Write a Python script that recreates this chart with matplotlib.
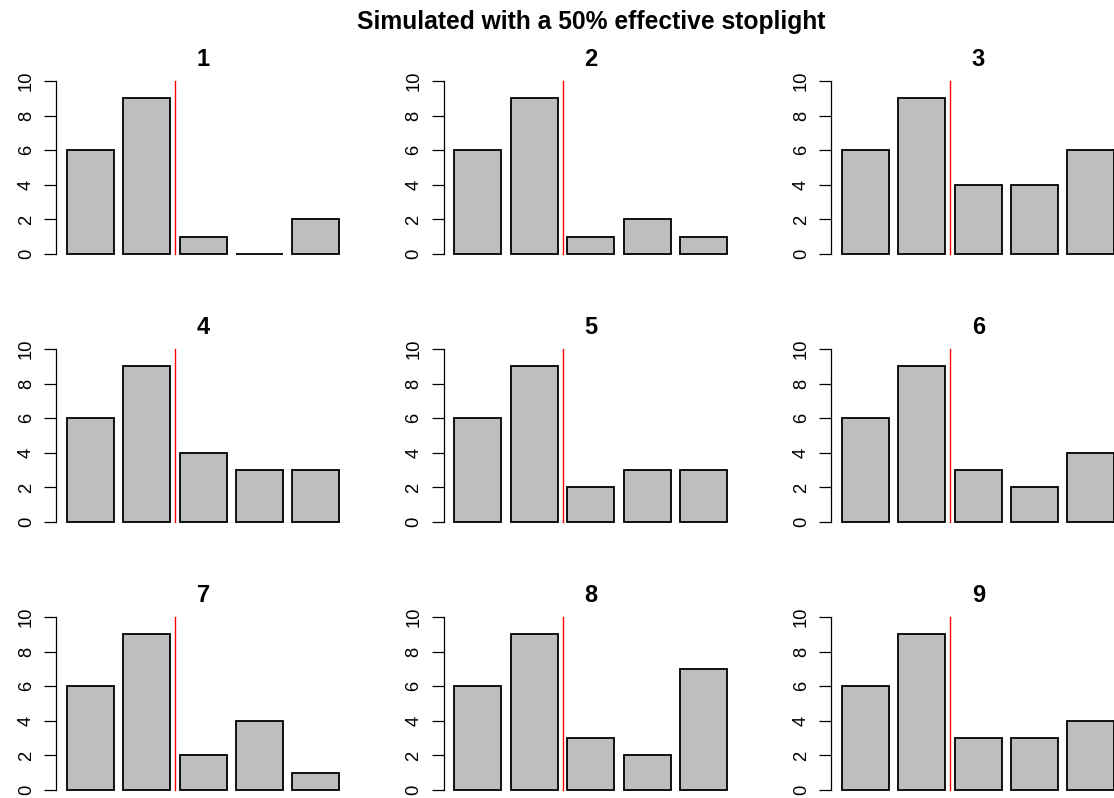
import numpy as np
import matplotlib.pyplot as plt

plt.rcParams['font.family'] = ['Liberation Sans', 'DejaVu Sans']

panel_titles = ["1", "2", "3", "4", "5", "6", "7", "8", "9"]
counts = [
    [6, 9, 1, 0, 2],
    [6, 9, 1, 2, 1],
    [6, 9, 4, 4, 6],
    [6, 9, 4, 3, 3],
    [6, 9, 2, 3, 3],
    [6, 9, 3, 2, 4],
    [6, 9, 2, 4, 1],
    [6, 9, 3, 2, 7],
    [6, 9, 3, 3, 4],
]
stoplight_at = 2.5
yticks = [0, 2, 4, 6, 8, 10]

W, H = 1114, 798
fig = plt.figure(figsize=(W / 100, H / 100), dpi=100)

# R barplot geometry: width 1, space 0.2
x_left = np.arange(5) * 1.2 + 0.2
x_lo, x_hi = -0.032, 6.232
y_lo, y_hi = -0.4, 10.4

col_left = [56, 443.5, 831]
row_top = [74, 342, 610]
pw, ph = 294.4, 187

for i, vals in enumerate(counts):
    r, c = divmod(i, 3)
    ax = fig.add_axes([col_left[c] / W, 1 - (row_top[r] + ph) / H, pw / W, ph / H])
    ax.bar(x_left, vals, width=1, align='edge', color='#bebebe',
           edgecolor='black', linewidth=1.3)
    ax.plot([stoplight_at, stoplight_at], [0, 10], color='red', lw=1)
    ax.set_xlim(x_lo, x_hi)
    ax.set_ylim(y_lo, y_hi)
    for s in ['top', 'right', 'bottom']:
        ax.spines[s].set_visible(False)
    ax.spines['left'].set_bounds(0, 10)
    ax.spines['left'].set_linewidth(0.9)
    ax.set_xticks([])
    ax.set_yticks(yticks)
    ax.tick_params(axis='y', length=8.6, width=0.9, pad=6.5, labelsize=13.2)
    for lab in ax.get_yticklabels():
        lab.set_rotation(90)
        lab.set_va('center')
    ax.set_title(panel_titles[i], fontsize=17, fontweight='bold', pad=6)

fig.text(591 / W, 1 - 22 / H, "Simulated with a 50% effective stoplight",
         ha='center', va='center', fontsize=17.7, fontweight='bold')

fig.savefig("out.png", dpi=100)
